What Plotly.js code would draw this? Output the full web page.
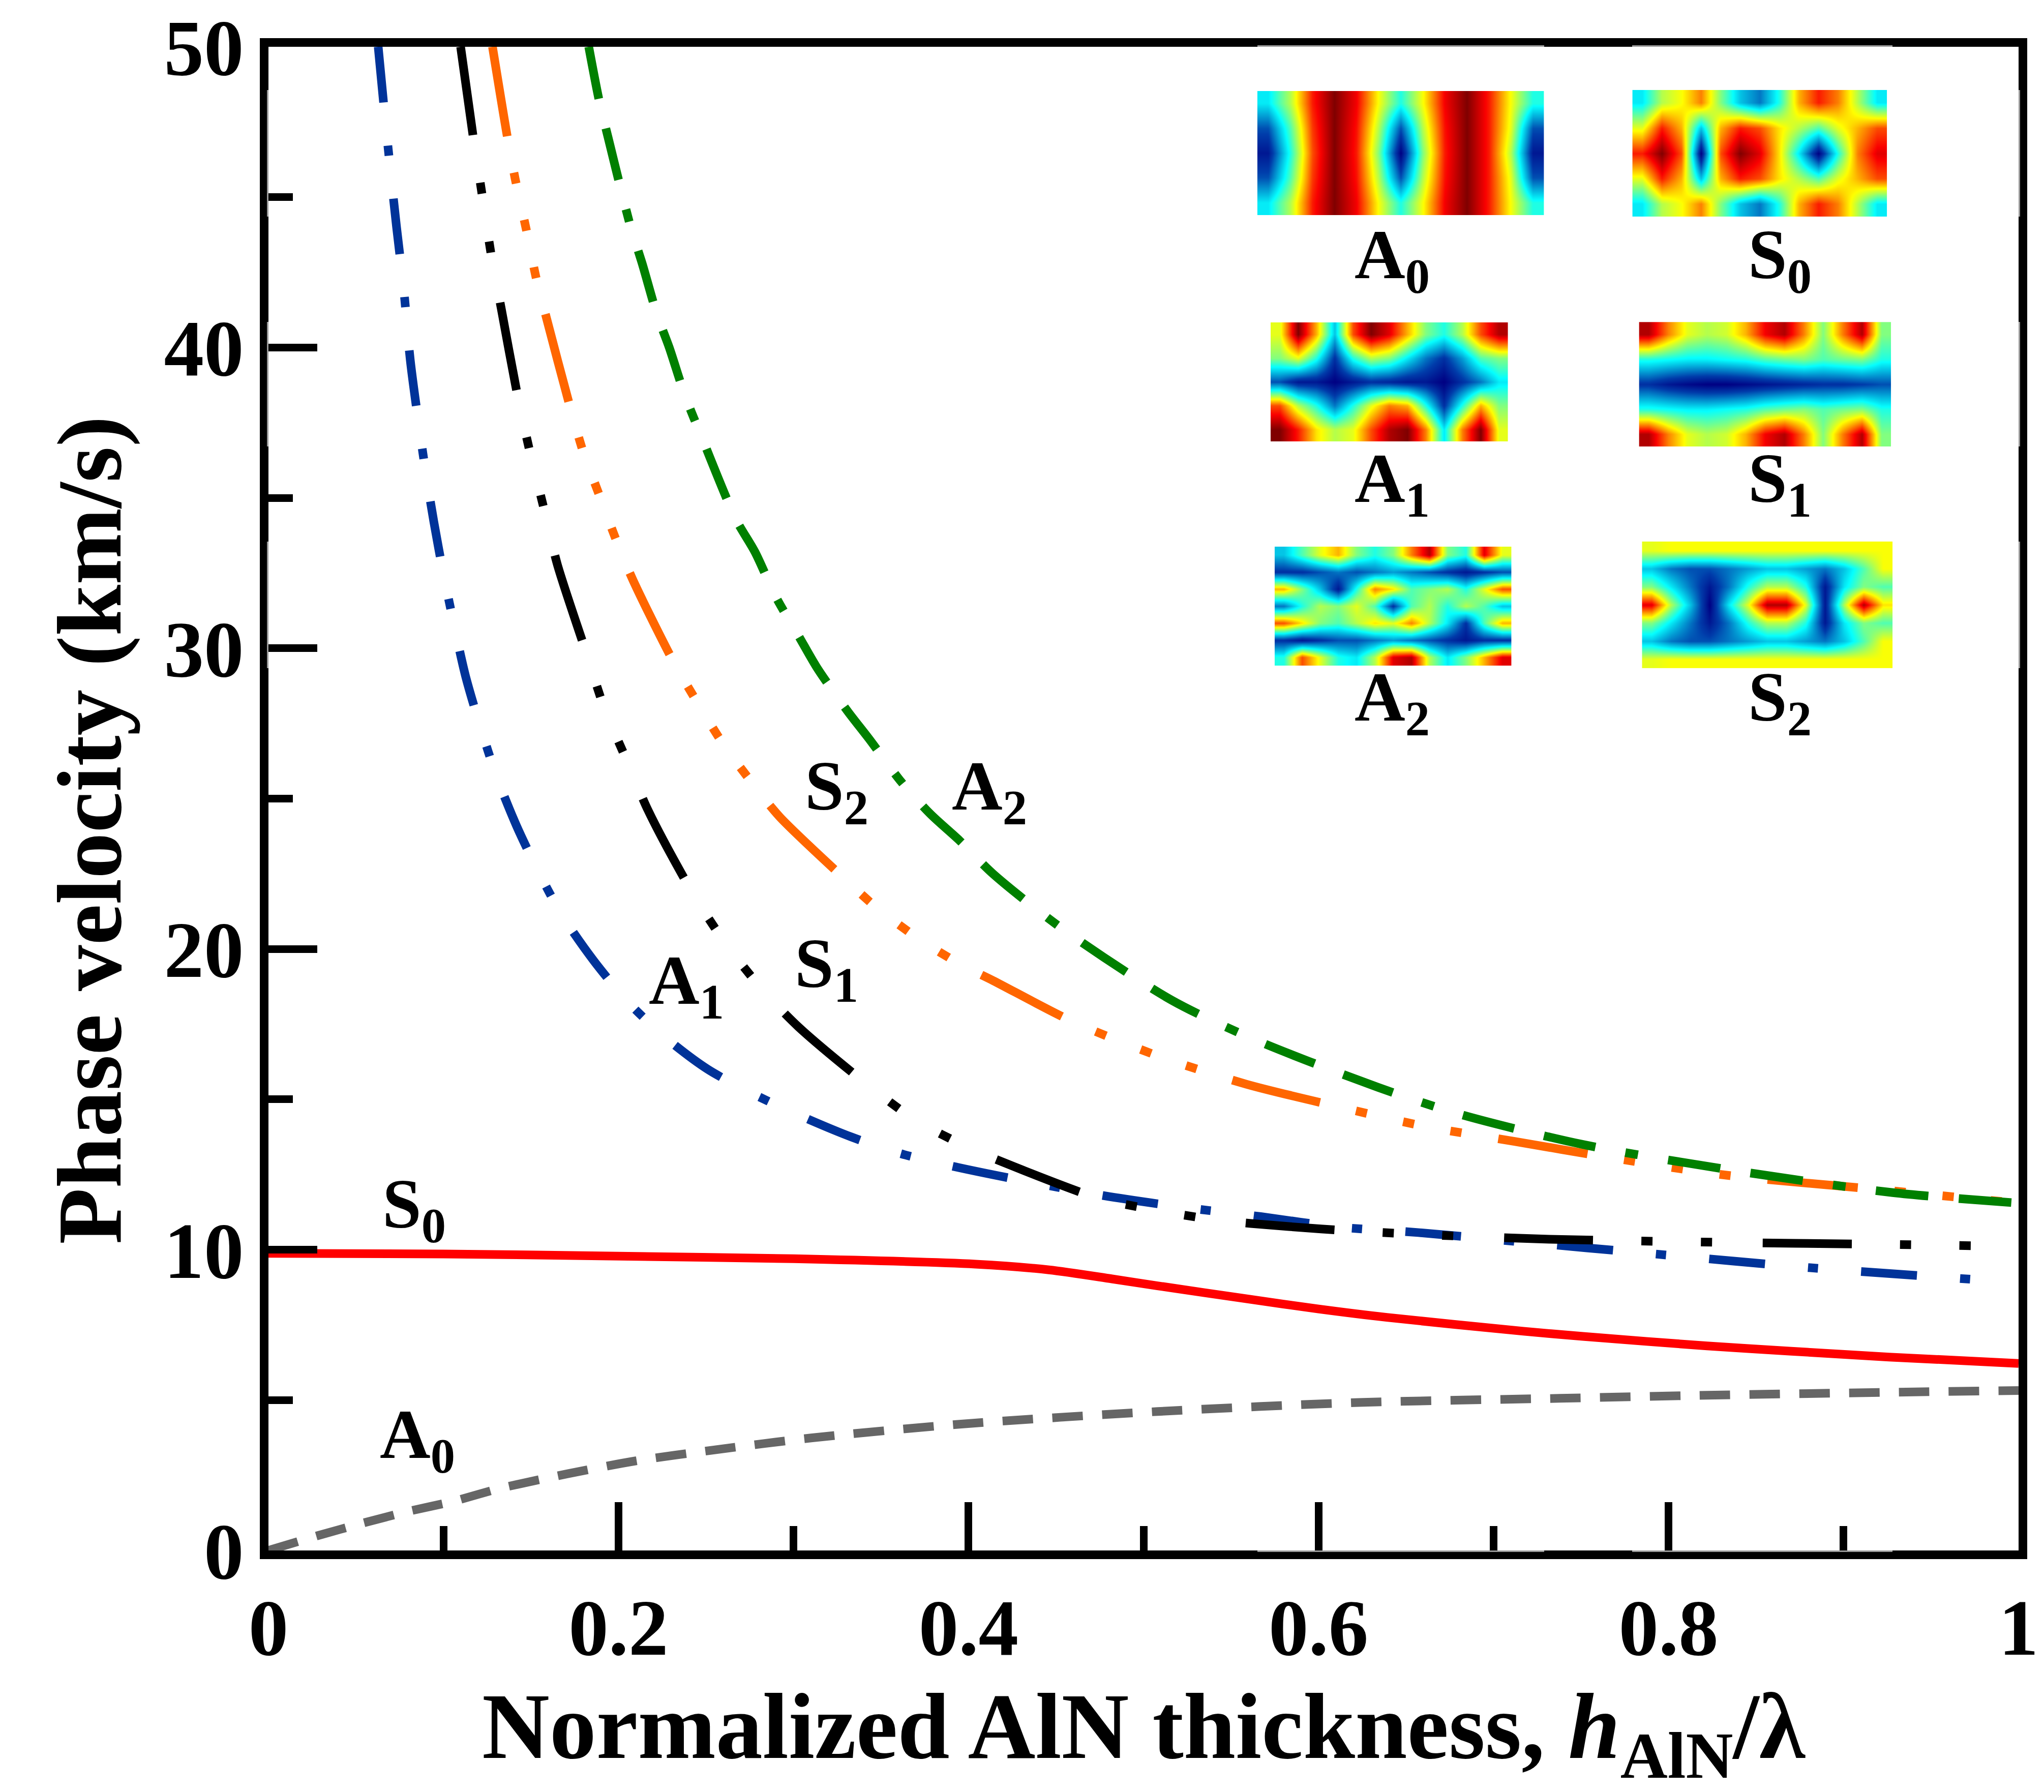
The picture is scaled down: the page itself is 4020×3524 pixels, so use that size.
<!DOCTYPE html>
<html>
<head>
<meta charset="utf-8">
<script src="https://cdn.plot.ly/plotly-3.0.1.min.js"></script>
<style>
  html, body { margin: 0; padding: 0; background: #fff; }
  #chart { width: 4020px; height: 3524px; }
</style>
</head>
<body>
<div id="chart"></div>
<script>

// dispersion curves (x = h/lambda, y = km/s)
var a0X = [0, 0.028, 0.054, 0.08, 0.106, 0.132, 0.171, 0.21, 0.253, 0.31, 0.393, 0.508, 0.623, 0.738, 0.822, 0.926, 1.0];
var a0Y = [0, 0.49, 0.91, 1.3, 1.64, 2.06, 2.55, 2.98, 3.33, 3.74, 4.19, 4.62, 4.92, 5.06, 5.16, 5.26, 5.32];

var s0X = [0, 0.1, 0.195, 0.3, 0.404, 0.446, 0.482, 0.508, 0.561, 0.6, 0.639, 0.717, 0.751, 0.822, 0.869, 0.926, 1.0];
var s0Y = [9.88, 9.86, 9.79, 9.7, 9.52, 9.33, 9.03, 8.80, 8.35, 8.03, 7.75, 7.29, 7.12, 6.80, 6.63, 6.43, 6.22];

var a1X = [0.0627, 0.066, 0.0695, 0.0732, 0.0772, 0.081, 0.0855, 0.09, 0.0945, 0.0999, 0.1056, 0.1125, 0.121, 0.1306, 0.1417, 0.154, 0.168, 0.186, 0.206, 0.228, 0.251, 0.278, 0.306, 0.333, 0.361, 0.389, 0.422, 0.477, 0.524, 0.567, 0.612, 0.657, 0.712, 0.79, 0.881, 0.985];
var a1Y = [50, 48, 46, 44, 42, 39.6, 37.6, 35.8, 34.2, 32.5, 30.9, 29.1, 27.4, 25.7, 24.1, 22.6, 21.1, 19.6, 18.2, 17.0, 16.0, 15.15, 14.4, 13.75, 13.2, 12.8, 12.4, 11.8, 11.4, 11.1, 10.75, 10.57, 10.28, 9.87, 9.40, 8.97];

var s1X = [0.1098, 0.117, 0.1215, 0.1275, 0.133, 0.142, 0.1487, 0.158, 0.165, 0.181, 0.192, 0.206, 0.217, 0.242, 0.261, 0.283, 0.303, 0.342, 0.37, 0.4, 0.43, 0.475, 0.504, 0.54, 0.583, 0.618, 0.673, 0.732, 0.826, 0.92, 1.0];
var s1Y = [50, 47.0, 45.3, 43.0, 41.3, 38.5, 36.7, 34.5, 32.8, 29.95, 28.0, 26.1, 24.6, 21.9, 20.2, 18.6, 17.4, 15.5, 14.3, 13.4, 12.67, 11.7, 11.35, 11.0, 10.77, 10.63, 10.47, 10.35, 10.25, 10.18, 10.11];

var s2X = [0.128, 0.1365, 0.141, 0.1474, 0.153, 0.159, 0.172, 0.18, 0.189, 0.198, 0.208, 0.231, 0.245, 0.26, 0.278, 0.292, 0.328, 0.347, 0.37, 0.395, 0.414, 0.459, 0.508, 0.559, 0.608, 0.661, 0.712, 0.763, 0.83, 0.92, 1.0];
var s2Y = [50, 47.0, 45.6, 43.9, 42.3, 40.95, 38.1, 36.5, 35.1, 33.7, 32.3, 29.6, 28.2, 26.8, 25.4, 24.4, 22.4, 21.4, 20.4, 19.5, 18.95, 17.6, 16.45, 15.5, 14.8, 14.1, 13.6, 13.1, 12.5, 12.0, 11.55];

var a2X = [0.183, 0.189, 0.194, 0.201, 0.207, 0.2135, 0.222, 0.229, 0.238, 0.247, 0.267, 0.278, 0.29, 0.303, 0.314, 0.331, 0.343, 0.361, 0.378, 0.395, 0.414, 0.453, 0.516, 0.563, 0.634, 0.681, 0.751, 0.83, 0.928, 1.0];
var a2Y = [50, 48.2, 47.0, 45.35, 44.0, 42.8, 41.1, 40.0, 38.4, 37.1, 34.3, 33.2, 31.7, 30.4, 29.3, 27.9, 27.0, 25.6, 24.5, 23.6, 22.5, 20.7, 18.3, 17.0, 15.4, 14.5, 13.5, 12.7, 11.9, 11.55];

// mode shape insets, field magnitude 0..1 (rows top to bottom)
var fieldA0 = [
  [0.35, 0.55, 0.85, 1.0, 0.88, 0.62, 0.4, 0.62, 0.88, 1.0, 0.85, 0.62, 0.4],
  [0.15, 0.45, 0.82, 1.0, 0.86, 0.55, 0.15, 0.55, 0.86, 1.0, 0.85, 0.6, 0.15],
  [0.05, 0.4, 0.8, 1.0, 0.85, 0.5, 0.0, 0.5, 0.85, 1.0, 0.85, 0.55, 0.05],
  [0.15, 0.45, 0.82, 1.0, 0.86, 0.55, 0.15, 0.55, 0.86, 1.0, 0.85, 0.6, 0.15],
  [0.35, 0.55, 0.85, 1.0, 0.88, 0.62, 0.4, 0.62, 0.88, 1.0, 0.85, 0.62, 0.4]
];
var fieldS0 = [
  [0.35, 0.55, 0.62, 0.75, 0.5, 0.3, 0.2, 0.4, 0.7, 0.85, 0.75, 0.55, 0.35],
  [0.6, 0.85, 0.7, 0.3, 0.7, 0.85, 0.8, 0.65, 0.55, 0.45, 0.6, 0.7, 0.8],
  [0.85, 1.0, 0.8, 0.0, 0.8, 1.0, 0.9, 0.65, 0.35, 0.0, 0.4, 0.75, 0.9],
  [0.6, 0.85, 0.7, 0.3, 0.7, 0.85, 0.8, 0.65, 0.55, 0.45, 0.6, 0.7, 0.8],
  [0.35, 0.55, 0.62, 0.75, 0.5, 0.3, 0.2, 0.4, 0.7, 0.85, 0.75, 0.55, 0.35]
];
var fieldA1 = [
  [0.6, 1.0, 0.7, 0.3, 0.8, 1.0, 0.9, 0.7, 0.5, 0.4, 0.55, 0.8, 0.95],
  [0.5, 0.6, 0.4, 0.1, 0.4, 0.55, 0.5, 0.35, 0.2, 0.1, 0.25, 0.45, 0.5],
  [0.15, 0.05, 0.05, 0.0, 0.05, 0.1, 0.08, 0.05, 0.05, 0.0, 0.1, 0.2, 0.35],
  [0.8, 0.55, 0.4, 0.2, 0.4, 0.6, 0.75, 0.7, 0.4, 0.1, 0.4, 0.7, 0.5],
  [1.0, 0.85, 0.65, 0.55, 0.6, 0.8, 0.95, 1.0, 0.75, 0.35, 0.75, 1.0, 0.6]
];
var fieldS1 = [
  [0.95, 0.75, 0.6, 0.55, 0.58, 0.7, 0.88, 0.95, 0.75, 0.5, 0.75, 0.95, 0.5],
  [0.4, 0.38, 0.36, 0.36, 0.38, 0.4, 0.45, 0.48, 0.5, 0.45, 0.48, 0.5, 0.4],
  [0.1, 0.05, 0.02, 0.0, 0.0, 0.02, 0.04, 0.06, 0.08, 0.1, 0.1, 0.12, 0.15],
  [0.4, 0.38, 0.36, 0.36, 0.38, 0.4, 0.45, 0.48, 0.5, 0.45, 0.48, 0.5, 0.4],
  [0.95, 0.75, 0.6, 0.55, 0.58, 0.7, 0.88, 0.95, 0.75, 0.5, 0.75, 0.95, 0.5]
];
var fieldA2 = [
  [0.3, 0.45, 0.6, 0.7, 0.5, 0.4, 0.5, 0.75, 0.95, 0.5, 0.4, 0.9, 0.6],
  [0.1, 0.1, 0.15, 0.2, 0.15, 0.2, 0.25, 0.2, 0.15, 0.1, 0.05, 0.1, 0.15],
  [0.7, 0.5, 0.3, 0.05, 0.4, 0.75, 0.65, 0.45, 0.5, 0.55, 0.4, 0.6, 0.8],
  [0.2, 0.4, 0.55, 0.5, 0.6, 0.45, 0.1, 0.45, 0.55, 0.4, 0.55, 0.45, 0.3],
  [0.8, 0.65, 0.5, 0.45, 0.55, 0.65, 0.6, 0.75, 0.55, 0.35, 0.1, 0.45, 0.7],
  [0.1, 0.05, 0.1, 0.15, 0.15, 0.2, 0.25, 0.2, 0.15, 0.1, 0.05, 0.1, 0.1],
  [0.4, 0.8, 0.6, 0.4, 0.35, 0.55, 0.9, 0.95, 0.55, 0.35, 0.5, 0.7, 0.9]
];
var fieldS2 = [
  [0.6, 0.62, 0.62, 0.62, 0.62, 0.62, 0.62, 0.62, 0.62, 0.62, 0.62, 0.62, 0.62],
  [0.3, 0.2, 0.15, 0.15, 0.2, 0.25, 0.3, 0.3, 0.25, 0.2, 0.3, 0.45, 0.62],
  [0.5, 0.35, 0.2, 0.05, 0.2, 0.4, 0.55, 0.55, 0.4, 0.05, 0.35, 0.5, 0.45],
  [0.9, 0.55, 0.3, 0.0, 0.35, 0.6, 0.95, 0.95, 0.6, 0.05, 0.55, 0.95, 0.65],
  [0.5, 0.35, 0.2, 0.05, 0.2, 0.4, 0.55, 0.55, 0.4, 0.05, 0.35, 0.5, 0.45],
  [0.3, 0.2, 0.15, 0.15, 0.2, 0.25, 0.3, 0.3, 0.25, 0.2, 0.3, 0.45, 0.62],
  [0.6, 0.62, 0.62, 0.62, 0.62, 0.62, 0.62, 0.62, 0.62, 0.62, 0.62, 0.62, 0.62]
];

var FONT = 'Liberation Serif, Times New Roman, serif';

function curve(x, y, color, dash) {
  return {
    x: x, y: y,
    type: 'scatter', mode: 'lines',
    line: {color: color, width: 17, dash: dash, shape: 'spline', smoothing: 0.8},
    hoverinfo: 'skip', showlegend: false
  };
}

function inset(z, n) {
  return {
    z: z, type: 'heatmap',
    xaxis: 'x' + n, yaxis: 'y' + n,
    colorscale: 'Jet', zmin: 0, zmax: 1,
    zsmooth: 'best', showscale: false, hoverinfo: 'skip'
  };
}

function insetAxis(domain, reversed) {
  var ax = {
    domain: domain,
    showticklabels: false, ticks: '', showgrid: false, zeroline: false,
    showline: true, mirror: true, linecolor: '#9a9a9a', linewidth: 3,
    fixedrange: true
  };
  if (reversed) ax.autorange = 'reversed';
  return ax;
}

function label(text, x, y, size) {
  return {
    text: text, x: x, y: y, xref: 'x', yref: 'y',
    xanchor: 'left', yanchor: 'middle', showarrow: false,
    font: {family: FONT, size: size, color: 'black', weight: 'bold'}
  };
}

var data = [
  curve(a0X, a0Y, '#666666', '60px,38px'),
  curve(s0X, s0Y, '#ff0000', 'solid'),
  curve(a1X, a1Y, '#003399', '110px,85px,20px,85px'),
  curve(s1X, s1Y, '#000000', '175px,95px,22px,95px,22px,100px'),
  curve(s2X, s2Y, '#ff6600', '178px,73px,22px,73px,22px,73px,22px,73px'),
  curve(a2X, a2Y, '#008000', '104px,60px,104px,60px,25px,60px'),
  inset(fieldA0, 2), inset(fieldS0, 3),
  inset(fieldA1, 4), inset(fieldS1, 5),
  inset(fieldA2, 6), inset(fieldS2, 7)
];

var tickFont = {family: FONT, size: 157, color: 'black', weight: 'bold'};

var layout = {
  width: 4020, height: 3524,
  margin: {l: 528, r: 50, t: 92, b: 475},
  paper_bgcolor: '#fff', plot_bgcolor: '#fff',
  showlegend: false,
  xaxis: {
    range: [0, 1], dtick: 0.2, tick0: 0,
    ticks: 'inside', ticklen: 95, tickwidth: 15, tickcolor: 'black',
    minor: {dtick: 0.1, tick0: 0, ticks: 'inside', ticklen: 48, tickwidth: 15, tickcolor: 'black'},
    showline: true, linewidth: 17, linecolor: 'black', mirror: true,
    showgrid: false, zeroline: false,
    tickfont: tickFont,
    title: {
      text: 'Normalized AlN thickness, <i>h</i><sub>AlN</sub>/λ',
      font: {family: FONT, size: 184, color: 'black', weight: 'bold'},
      standoff: 55
    }
  },
  yaxis: {
    range: [0, 50], dtick: 10, tick0: 0,
    ticks: 'inside', ticklen: 96, tickwidth: 15, tickcolor: 'black',
    minor: {dtick: 5, tick0: 0, ticks: 'inside', ticklen: 48, tickwidth: 15, tickcolor: 'black'},
    showline: true, linewidth: 17, linecolor: 'black', mirror: true,
    showgrid: false, zeroline: false,
    tickfont: tickFont
  },
  xaxis2: insetAxis([0.5650, 0.7288]), yaxis2: insetAxis([0.8881, 0.9706], true),
  xaxis3: insetAxis([0.7793, 0.9248]), yaxis3: insetAxis([0.8870, 0.9713], true),
  xaxis4: insetAxis([0.5726, 0.7082]), yaxis4: insetAxis([0.7376, 0.8167], true),
  xaxis5: insetAxis([0.7831, 0.9271]), yaxis5: insetAxis([0.7342, 0.8170], true),
  xaxis6: insetAxis([0.5749, 0.7102]), yaxis6: insetAxis([0.5884, 0.6676], true),
  xaxis7: insetAxis([0.7848, 0.9280]), yaxis7: insetAxis([0.5867, 0.6710], true),
  annotations: [
    {
      text: 'Phase velocity (km/s)', textangle: -90,
      xref: 'paper', yref: 'paper', x: -0.1025, y: 0.479,
      xanchor: 'center', yanchor: 'middle', showarrow: false,
      font: {family: FONT, size: 181, color: 'black', weight: 'bold'}
    },
    label('S<sub>0</sub>', 0.0645, 11.35, 138),
    label('A<sub>0</sub>', 0.063, 3.7, 138),
    label('A<sub>1</sub>', 0.2166, 18.8, 138),
    label('S<sub>1</sub>', 0.300, 19.36, 138),
    label('S<sub>2</sub>', 0.306, 25.26, 138),
    label('A<sub>2</sub>', 0.390, 25.26, 138),
    label('A<sub>0</sub>', 0.620, 42.93, 138),
    label('S<sub>0</sub>', 0.845, 42.93, 138),
    label('A<sub>1</sub>', 0.620, 35.49, 138),
    label('S<sub>1</sub>', 0.845, 35.49, 138),
    label('A<sub>2</sub>', 0.620, 28.22, 138),
    label('S<sub>2</sub>', 0.845, 28.22, 138)
  ]
};

Plotly.newPlot('chart', data, layout, {staticPlot: true});

</script>
</body>
</html>
